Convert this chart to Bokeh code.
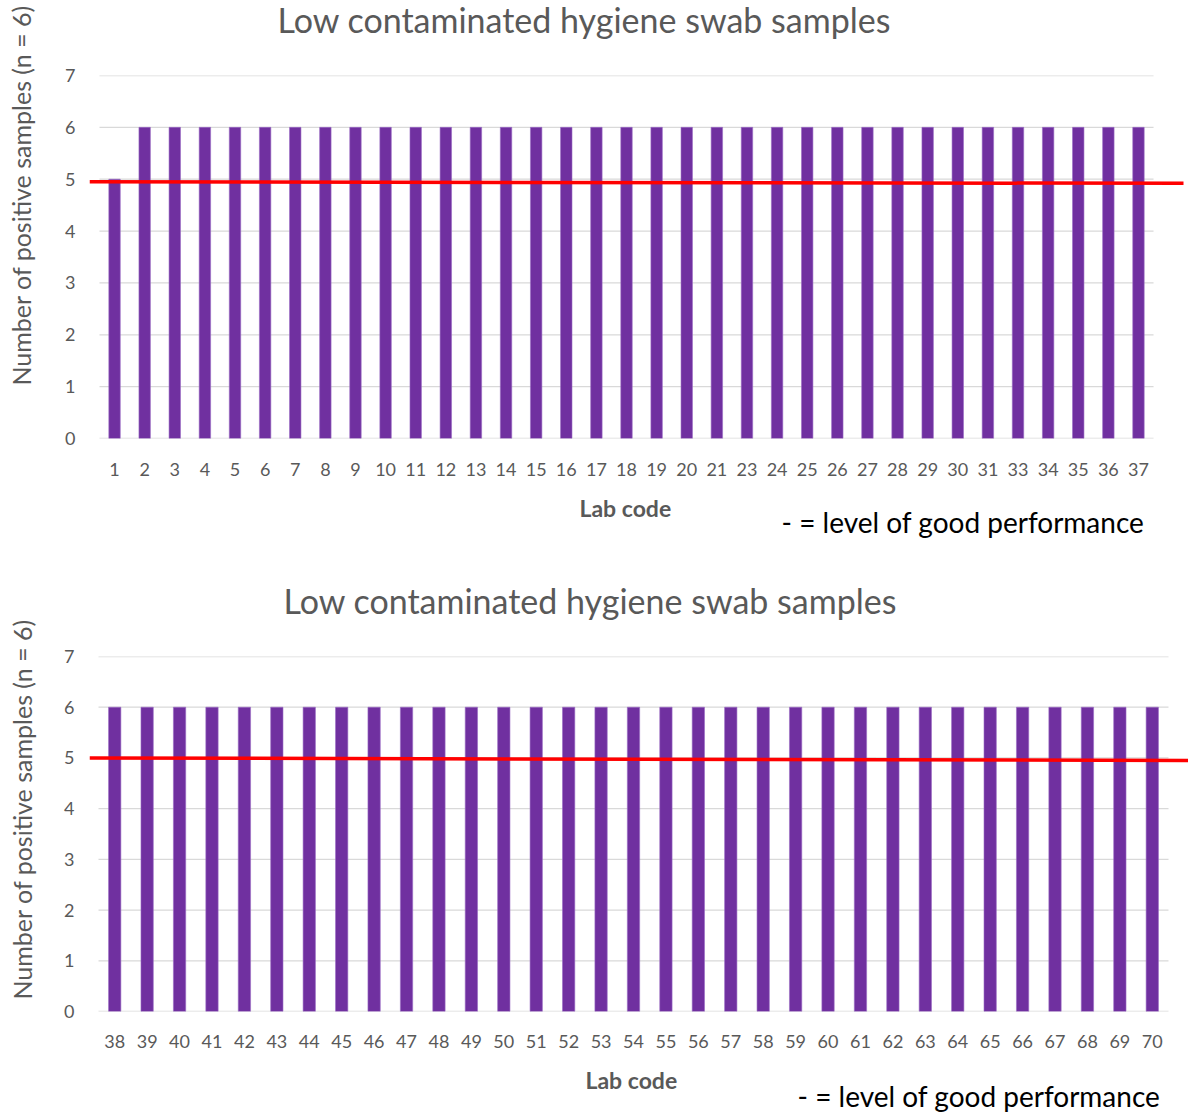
from bokeh.plotting import figure
from bokeh.models import Title, FixedTicker, ColumnDataSource
from bokeh.layouts import column
from bokeh.embed import file_html
from bokeh.resources import INLINE

# ---------------- data ----------------
title_text = "Low contaminated hygiene swab samples"
y_title = "Number of positive samples (n = 6)"
x_title = "Lab code"
note_text = "-  = level of good performance"

labs_top = ["1", "2", "3", "4", "5", "6", "7", "8", "9", "10", "11", "12", "13",
            "14", "15", "16", "17", "18", "19", "20", "21", "23", "24", "25", "26",
            "27", "28", "29", "30", "31", "33", "34", "35", "36", "37"]
vals_top = [5, 6, 6, 6, 6, 6, 6, 6, 6, 6, 6, 6, 6,
            6, 6, 6, 6, 6, 6, 6, 6, 6, 6, 6, 6,
            6, 6, 6, 6, 6, 6, 6, 6, 6, 6]

labs_bottom = ["38", "39", "40", "41", "42", "43", "44", "45", "46", "47", "48",
               "49", "50", "51", "52", "53", "54", "55", "56", "57", "58", "59",
               "60", "61", "62", "63", "64", "65", "66", "67", "68", "69", "70"]
vals_bottom = [6, 6, 6, 6, 6, 6, 6, 6, 6, 6, 6,
               6, 6, 6, 6, 6, 6, 6, 6, 6, 6, 6,
               6, 6, 6, 6, 6, 6, 6, 6, 6, 6, 6]

y_ticks = [0, 1, 2, 3, 4, 5, 6, 7]

# hand-drawn "good performance" line (start level, end level)
good_top = [4.95, 4.92]
good_bottom = [5.0, 4.95]

# ---------------- style ----------------
FONT = "Lato"
GREY = "#595959"
PURPLE = "#7030A0"
GRID = "#D9D9D9"
W = 1188
ASC, DESC = 0.987, 0.213          # Lato text-box metrics
HT = ASC + DESC
TS, YS, TK, LS, NS = 34, 25, 18, 23, 28   # font sizes


def spacer(size):
    return Title(text=" ", text_font_size="1px",
                 standoff=max(int(round(size - 3.2)), 0))


def panel(labs, vals, good, g):
    n = len(labs)
    spacing = (g["plot_r"] - g["plot_l"]) / n
    x_start = 0.5 - (g["plot_l"] - g["left"]) / spacing
    x_end = n + 0.5 + (W - g["plot_r"]) / spacing
    fb, ft, fl = g["bottom"], g["top"], g["left"]
    p = figure(width=W, height=g["height"], output_backend="svg",
               toolbar_location=None, x_range=(x_start, x_end),
               y_range=(y_ticks[0], y_ticks[-1]),
               min_border_left=fl, min_border_right=0,
               min_border_top=ft, min_border_bottom=g["height"] - fb)
    p.outline_line_color = None
    p.xgrid.visible = False
    p.ygrid.visible = False
    p.title.text = ""
    p.title.visible = False

    xs = [i + 1 for i in range(n)]
    p.segment(x0=[0.5] * len(y_ticks), x1=[n + 0.5] * len(y_ticks),
              y0=y_ticks, y1=y_ticks, line_color=GRID, line_width=1.3)

    src = ColumnDataSource(dict(x=xs, v=vals, lab=labs))
    p.vbar(x="x", top="v", bottom=0, width=0.38, source=src,
           fill_color=PURPLE, line_color="#9a6cc4", line_width=0.6)

    lx0 = 0.5 - (g["plot_l"] - g["line_l"]) / spacing
    lx1 = n + 0.5 + (g["line_r"] - g["plot_r"]) / spacing
    p.segment(x0=[lx0], x1=[lx1], y0=[good[0]], y1=[good[1]],
              line_color="#FF0000", line_width=3.5)

    for ax in (p.xaxis, p.yaxis):
        ax.axis_line_color = None
        ax.major_tick_line_color = None
        ax.minor_tick_line_color = None
        ax.major_tick_out = 0
        ax.major_tick_in = 0
        ax.minor_tick_out = 0
        ax.minor_tick_in = 0
        ax.major_label_text_color = GREY
        ax.major_label_text_font = FONT
        ax.major_label_text_font_size = f"{TK}px"
    p.xaxis.ticker = FixedTicker(ticks=xs)
    p.xaxis.major_label_overrides = {x: l for x, l in zip(xs, labs)}
    p.xaxis.major_label_standoff = g["xstand"]
    p.yaxis.ticker = FixedTicker(ticks=y_ticks)
    p.yaxis.major_label_standoff = g["ystand"]

    # ----- above: spacer + main title (negative standoff pulls it up)
    t_text_bottom = g["title_base"] + DESC * TS
    t_bbox_bottom = t_text_bottom - 4
    p.add_layout(spacer(ft - t_bbox_bottom), "above")
    p.add_layout(Title(text=title_text, align="left", offset=g["title_left"] - fl,
                       standoff=-8, vertical_align="bottom", text_font=FONT,
                       text_font_size=f"{TS}px", text_font_style="normal",
                       text_color=GREY), "above")

    # ----- left: spacer + rotated axis title
    ywidth = g["ystand"] + 0.58 * TK
    sp_end = fl - ywidth
    y_txt_bottom = g["ylab_base_x"] + DESC * YS
    p.add_layout(spacer(sp_end - y_txt_bottom), "left")
    ylen = 15.1 * YS
    start_y = g["ylab_cy"] + ylen / 2
    p.add_layout(Title(text=y_title, align="left", offset=int(round(fb - start_y)),
                       standoff=0, vertical_align="bottom", text_font=FONT,
                       text_font_size=f"{YS}px", text_font_style="normal",
                       text_color=GREY), "left")

    # ----- below: spacer + "Lab code" + note
    ax_bottom = fb + g["xstand"] + HT * TK
    lab_base = g["lab_cy"] + 4 + 0.36 * LS
    lab_top = lab_base - ASC * LS
    sp_end = lab_top - 2
    p.add_layout(spacer(sp_end - ax_bottom), "below")
    p.add_layout(Title(text=x_title, align="left", offset=g["lab_left"] - fl,
                       standoff=0, vertical_align="bottom", text_font=FONT,
                       text_font_size=f"{LS}px", text_font_style="bold",
                       text_color=GREY), "below")
    lab_bbox_bottom = sp_end + 2 + HT * LS
    note_base = g["note_cy"] + 6 + 0.255 * NS
    note_top = note_base - ASC * NS
    s = 2 * (note_top - lab_bbox_bottom)
    s = max(s, -HT * NS)
    p.add_layout(Title(text=note_text, align="right", offset=W - g["note_right"] - 8,
                       standoff=int(round(s)), vertical_align="top", text_font=FONT,
                       text_font_size=f"{NS}px", text_font_style="normal",
                       text_color="black"), "below")
    return p


geo_top = dict(height=560, left=88, top=75, bottom=438, plot_l=98, plot_r=1153,
               line_l=88, line_r=1183, xstand=24, ystand=14,
               title_left=276, title_base=32,
               ylab_cy=196, ylab_base_x=31,
               lab_left=578, lab_cy=509,
               note_right=1143, note_cy=522)
geo_bottom = dict(height=553, left=89, top=96, bottom=451, plot_l=98, plot_r=1168,
                  line_l=89, line_r=1188, xstand=23, ystand=15,
                  title_left=283, title_base=53,
                  ylab_cy=250, ylab_base_x=33,
                  lab_left=585, lab_cy=521,
                  note_right=1159, note_cy=538)

p1 = panel(labs_top, vals_top, good_top, geo_top)
p2 = panel(labs_bottom, vals_bottom, good_bottom, geo_bottom)

layout = column(p1, p2, spacing=0)
open("out.html", "w").write(file_html(layout, INLINE))
